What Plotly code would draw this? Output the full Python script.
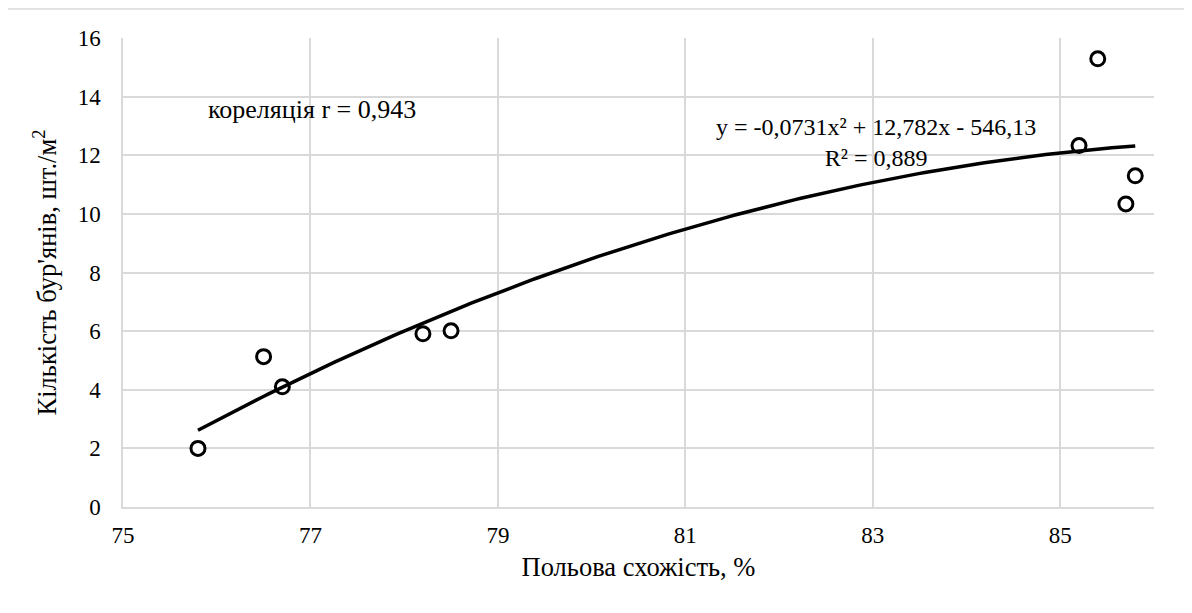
import plotly.graph_objects as go
import numpy as np

# Data
field_germination = [75.8, 76.5, 76.7, 78.2, 78.5, 85.2, 85.4, 85.7, 85.8]
weed_count = [2.0, 5.13, 4.1, 5.91, 6.01, 12.33, 15.29, 10.34, 11.3]

# Polynomial (order 2) trendline, fitted from the data as the spreadsheet does
trend_order = 2
trend_x_range = [min(field_germination), max(field_germination)]

x_ticks = [75, 77, 79, 81, 83, 85]
y_ticks = [0, 2, 4, 6, 8, 10, 12, 14, 16]

FONT = "Times New Roman, Liberation Serif, Tinos, DejaVu Serif, serif"
GRID = "#d9d9d9"

# page body has an 8px margin; compensate so the chart lands where the reference has it
OFF = 8
W, H = 1192 - OFF, 613 - OFF
L, T = 123 - OFF, 38 - OFF
PW, PH = 1031, 469

coeffs = np.polyfit(field_germination, weed_count, trend_order)
tx = np.linspace(trend_x_range[0], trend_x_range[1], 200)
ty = np.polyval(coeffs, tx)

fig = go.Figure()
fig.add_trace(go.Scatter(
    x=field_germination, y=weed_count, mode="markers",
    marker=dict(symbol="circle", size=14, color="white",
                line=dict(color="black", width=3)),
    showlegend=False, cliponaxis=False,
))
fig.add_trace(go.Scatter(
    x=tx, y=ty, mode="lines",
    line=dict(color="black", width=3.5),
    showlegend=False,
))

fig.add_annotation(x=77.02, y=13.56, xref="x", yref="y",
                   text="кореляція r = 0,943", showarrow=False,
                   font=dict(family=FONT, size=26, color="black"))
fig.add_annotation(x=83.03, y=12.42, xref="x", yref="y",
                   text="y = -0,0731x² + 12,782x - 546,13<br>R² = 0,889",
                   showarrow=False, align="center",
                   font=dict(family=FONT, size=24, color="black"))

# Chart-area border (left and top edges visible)
bx = (6 - 123) / PW
by = (507 - 9) / PH
fig.add_shape(type="line", xref="paper", yref="paper",
              x0=bx, x1=1.1, y0=by, y1=by,
              line=dict(color=GRID, width=1.5))
fig.add_shape(type="line", xref="paper", yref="paper",
              x0=bx, x1=bx, y0=-0.3, y1=by,
              line=dict(color=GRID, width=1.5))

fig.update_layout(
    width=W, height=H,
    margin=dict(l=L, r=W - L - PW, t=T, b=H - T - PH),
    paper_bgcolor="white", plot_bgcolor="white",
    font=dict(family=FONT, size=22, color="black"),
    xaxis=dict(
        range=[75, 86], tickvals=x_ticks, ticktext=[str(v) for v in x_ticks],
        showgrid=True, gridcolor=GRID, gridwidth=1.5,
        showline=True, linecolor=GRID, linewidth=1.5,
        zeroline=False, ticks="", ticklabelstandoff=7,
        tickfont=dict(family=FONT, size=23),
        title=dict(text="Польова схожість, %", font=dict(family=FONT, size=26.5), standoff=10),
    ),
    yaxis=dict(
        range=[0, 16], tickvals=y_ticks, ticktext=[str(v) for v in y_ticks],
        showgrid=True, gridcolor=GRID, gridwidth=1.5,
        showline=True, linecolor=GRID, linewidth=1.5,
        zeroline=False, ticks="", ticklabelstandoff=16,
        tickfont=dict(family=FONT, size=23),
        title=dict(text="Кількість бур'янів, шт./м<sup>2</sup>", font=dict(family=FONT, size=26.5), standoff=13),
    ),
)

fig.write_html("out.html")
